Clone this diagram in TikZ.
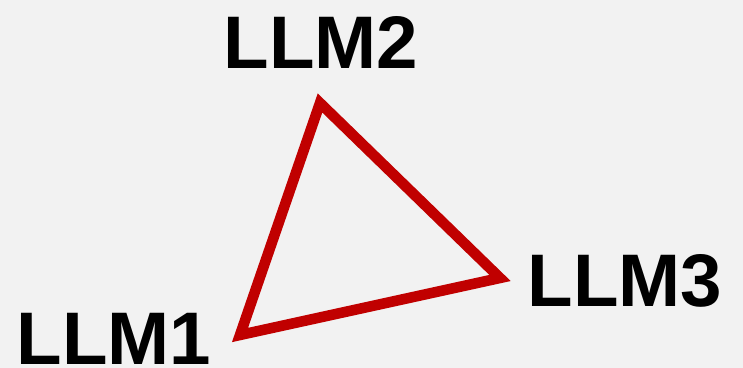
\documentclass[tikz,border=0pt]{standalone}
\usepackage{fontspec}
\setsansfont{Liberation Sans}
\usepackage{tikz}
\usetikzlibrary{positioning}
\definecolor{bggray}{HTML}{F2F2F2}
\definecolor{edgered}{HTML}{C00000}

\begin{document}
\begin{tikzpicture}[
  font=\sffamily\bfseries,
  lbl/.style={inner sep=0pt,anchor=base,font=\sffamily\bfseries\fontsize{21.2}{25}\selectfont},
  edge/.style={draw=edgered,line width=3pt,line join=miter},
]
  \fill[bggray] (0,0) rectangle (7.43,3.68);
  \useasboundingbox (0,0) rectangle (7.43,3.68);

  \coordinate (c1) at (2.40,0.33);
  \coordinate (c2) at (3.20,2.65);
  \coordinate (c3) at (5.00,0.90);

  \node[lbl] (llm1) at (1.14,0.03) {LLM1};
  \node[lbl] (llm2) at (3.21,2.99) {LLM2};
  \node[lbl] (llm3) at (6.25,0.61) {LLM3};

  \draw[edge] (c1) -- (c2) -- (c3) -- cycle;
\end{tikzpicture}
\end{document}
